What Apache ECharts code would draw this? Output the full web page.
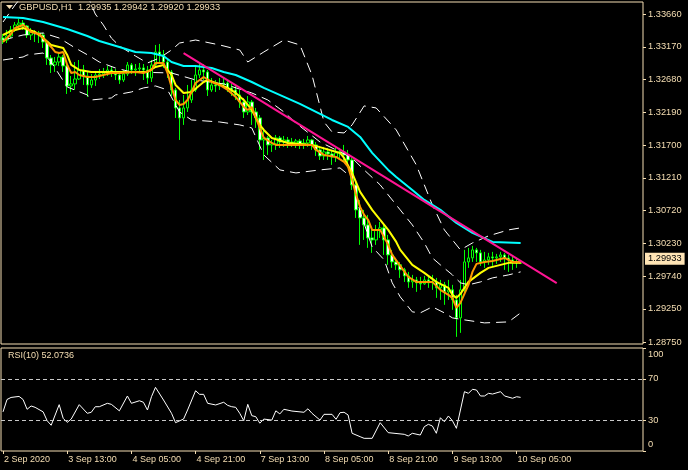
<!DOCTYPE html>
<html><head><meta charset="utf-8">
<script src="https://cdn.jsdelivr.net/npm/echarts@6/dist/echarts.min.js"></script>
<style>html,body{margin:0;padding:0;background:#000}#c{width:688px;height:470px}</style>
</head><body><div id="c"></div>
<script>
const symbol = 'GBPUSD';
const timeframe = 'H1';
const slotCount = 160;

const open = [1.33301,1.33271,1.33331,1.33421,1.33496,1.33525,1.33481,1.33346,1.33391,1.33376,
1.33346,1.33241,1.33002,1.32898,1.32942,1.33017,1.32883,1.32584,1.32614,1.32688,
1.32823,1.32733,1.32599,1.32673,1.32748,1.32763,1.32793,1.32823,1.32793,1.32748,
1.32673,1.32763,1.32898,1.32823,1.32838,1.32853,1.32823,1.32703,1.32898,1.33092,
1.33047,1.32942,1.32793,1.32524,1.32255,1.32105,1.32255,1.32374,1.32524,1.32748,
1.32823,1.32793,1.32524,1.32599,1.32584,1.32614,1.32628,1.32554,1.32524,1.32449,
1.32344,1.32195,1.32344,1.32195,1.32105,1.31776,1.31806,1.31702,1.31717,1.31806,
1.31746,1.31776,1.31746,1.31731,1.31761,1.31717,1.31731,1.31776,1.31702,1.31627,
1.31537,1.31597,1.31567,1.31522,1.31582,1.31597,1.31552,1.31477,1.31104,1.30730,
1.30610,1.30506,1.30311,1.30281,1.30431,1.30461,1.30281,1.30057,1.29952,1.29908,
1.29833,1.29743,1.29653,1.29683,1.29639,1.29624,1.29683,1.29639,1.29653,1.29564,
1.29609,1.29504,1.29534,1.29384,1.29115,1.29534,1.29952,1.30012,1.30132,1.30087,
1.29952,1.29982,1.30027,1.30012,1.30027,1.30057,1.30012,1.29982,1.29952,1.29935];

const close = [1.33271,1.33331,1.33421,1.33496,1.33525,1.33481,1.33346,1.33391,1.33376,1.33346,
1.33241,1.33002,1.32898,1.32942,1.33017,1.32883,1.32584,1.32614,1.32688,1.32823,
1.32733,1.32599,1.32673,1.32748,1.32763,1.32793,1.32823,1.32793,1.32748,1.32673,
1.32763,1.32898,1.32823,1.32838,1.32853,1.32823,1.32703,1.32898,1.33092,1.33047,
1.32942,1.32793,1.32524,1.32255,1.32105,1.32255,1.32374,1.32524,1.32748,1.32823,
1.32793,1.32524,1.32599,1.32584,1.32614,1.32628,1.32554,1.32524,1.32449,1.32344,
1.32195,1.32344,1.32195,1.32105,1.31776,1.31806,1.31702,1.31717,1.31806,1.31746,
1.31776,1.31746,1.31731,1.31761,1.31717,1.31731,1.31776,1.31702,1.31627,1.31537,
1.31597,1.31567,1.31522,1.31582,1.31597,1.31552,1.31477,1.31104,1.30730,1.30610,
1.30506,1.30311,1.30281,1.30431,1.30461,1.30281,1.30057,1.29952,1.29908,1.29833,
1.29743,1.29653,1.29683,1.29639,1.29624,1.29683,1.29639,1.29653,1.29564,1.29609,
1.29504,1.29534,1.29384,1.29115,1.29534,1.29952,1.30012,1.30132,1.30087,1.29952,
1.29982,1.30027,1.30012,1.30027,1.30057,1.30012,1.29982,1.29952,1.29938,1.29933];

const high = [1.33361,1.33421,1.33481,1.33540,1.33585,1.33570,1.33496,1.33451,1.33421,1.33406,
1.33376,1.33271,1.33047,1.33017,1.33092,1.33047,1.32898,1.32733,1.32942,1.32972,
1.32898,1.32793,1.32763,1.32808,1.32838,1.32853,1.32883,1.32868,1.32838,1.32793,
1.32823,1.32942,1.32927,1.32912,1.32927,1.32912,1.32883,1.32972,1.33197,1.33212,
1.33122,1.32972,1.32823,1.32554,1.32374,1.32449,1.32599,1.32673,1.32898,1.32927,
1.32912,1.32823,1.32703,1.32673,1.32703,1.32703,1.32673,1.32614,1.32584,1.32524,
1.32404,1.32434,1.32374,1.32255,1.32150,1.31956,1.31836,1.31776,1.31851,1.31836,
1.31836,1.31821,1.31806,1.31791,1.31791,1.31791,1.31836,1.31791,1.31746,1.31687,
1.31672,1.31657,1.31627,1.31657,1.31657,1.31702,1.31627,1.31507,1.31148,1.30879,
1.30730,1.30655,1.30461,1.30506,1.30550,1.30506,1.30356,1.30132,1.30012,1.29952,
1.29863,1.29803,1.29758,1.29728,1.29728,1.29743,1.29743,1.29758,1.29713,1.29683,
1.29653,1.29683,1.29609,1.29459,1.29683,1.30132,1.30162,1.30192,1.30162,1.30132,
1.30102,1.30087,1.30102,1.30072,1.30102,1.30087,1.30057,1.30042,1.30012,1.29942];

const low = [1.33212,1.33226,1.33301,1.33391,1.33451,1.33421,1.33301,1.33271,1.33241,1.33226,
1.33152,1.32898,1.32778,1.32793,1.32883,1.32793,1.32464,1.32494,1.32524,1.32673,
1.32599,1.32419,1.32554,1.32584,1.32688,1.32703,1.32733,1.32718,1.32673,1.32614,
1.32643,1.32733,1.32763,1.32733,1.32778,1.32673,1.32614,1.32643,1.32853,1.32942,
1.32853,1.32703,1.32434,1.32105,1.31776,1.32001,1.32195,1.32330,1.32494,1.32703,
1.32673,1.32434,1.32494,1.32494,1.32524,1.32554,1.32494,1.32434,1.32374,1.32255,
1.32105,1.32150,1.32001,1.31956,1.31627,1.31477,1.31552,1.31597,1.31627,1.31657,
1.31672,1.31657,1.31672,1.31657,1.31642,1.31642,1.31672,1.31627,1.31537,1.31477,
1.31477,1.31477,1.31403,1.31447,1.31507,1.31447,1.31358,1.31029,1.30610,1.30207,
1.30281,1.30162,1.30087,1.30207,1.30311,1.30057,1.29908,1.29863,1.29833,1.29713,
1.29653,1.29564,1.29564,1.29504,1.29534,1.29609,1.29564,1.29534,1.29414,1.29384,
1.29310,1.29384,1.29235,1.28831,1.28891,1.29459,1.29863,1.29952,1.29952,1.29893,
1.29863,1.29908,1.29893,1.29923,1.29952,1.29833,1.29803,1.29833,1.29863,1.29920];

// moving averages, read as [bar index, price]
const maSlow = [[0,1.33615],[5,1.33600],[10,1.33540],[16,1.33436],[21,1.33331],[24,1.33256],[29,1.33167],[33,1.33092],[37,1.33077],[40,1.33032],[42,1.32942],[45,1.32883],[48,1.32883],[52,1.32853],[55,1.32793],[58,1.32748],[62,1.32643],[65,1.32554],[74,1.32315],[82,1.32075],[86,1.31971],[89,1.31821],[92,1.31582],[96,1.31328],[98,1.31223],[102,1.31029],[105,1.30879],[109,1.30730],[113,1.30536],[117,1.30386],[122,1.30251],[129,1.30236]];
const maMid = [[0,1.33346],[2,1.33406],[4,1.33436],[5,1.33451],[8,1.33391],[10,1.33301],[12,1.33197],[14,1.33167],[15,1.33152],[16,1.33047],[17,1.32898],[19,1.32823],[22,1.32793],[36,1.32793],[38,1.32868],[40,1.32898],[42,1.32748],[43,1.32599],[45,1.32479],[47,1.32494],[50,1.32643],[51,1.32673],[53,1.32628],[56,1.32554],[58,1.32479],[60,1.32374],[62,1.32225],[64,1.32001],[65,1.31926],[67,1.31806],[71,1.31731],[77,1.31702],[84,1.31582],[85,1.31507],[87,1.31283],[89,1.30999],[92,1.30730],[94,1.30580],[96,1.30431],[98,1.30251],[99,1.30132],[102,1.29908],[105,1.29788],[108,1.29653],[111,1.29564],[112,1.29459],[113,1.29414],[114,1.29474],[116,1.29653],[119,1.29788],[121,1.29863],[124,1.29908],[126,1.29938],[129,1.29938]];
const maFast = [[0,1.33241],[2,1.33361],[3,1.33451],[5,1.33496],[6,1.33451],[7,1.33391],[9,1.33361],[10,1.33301],[12,1.33167],[13,1.33092],[14,1.33077],[15,1.33092],[16,1.32898],[17,1.32778],[18,1.32793],[19,1.32748],[21,1.32718],[23,1.32718],[27,1.32778],[29,1.32778],[33,1.32793],[35,1.32778],[37,1.32823],[38,1.32927],[40,1.32927],[41,1.32778],[42,1.32569],[43,1.32374],[44,1.32300],[45,1.32315],[46,1.32374],[47,1.32494],[48,1.32628],[50,1.32718],[52,1.32643],[54,1.32599],[56,1.32524],[58,1.32419],[60,1.32270],[61,1.32225],[62,1.32270],[64,1.31956],[65,1.31806],[67,1.31731],[68,1.31702],[77,1.31702],[78,1.31627],[80,1.31552],[83,1.31522],[85,1.31447],[86,1.31373],[87,1.31178],[88,1.30954],[89,1.30775],[90,1.30655],[91,1.30580],[92,1.30431],[94,1.30431],[96,1.30207],[97,1.30057],[99,1.29893],[101,1.29728],[103,1.29653],[107,1.29653],[109,1.29534],[111,1.29459],[112,1.29414],[113,1.29265],[114,1.29339],[116,1.29609],[117,1.29803],[118,1.29923],[120,1.29952],[122,1.29967],[124,1.29997],[125,1.30012],[127,1.29952],[129,1.29952]];

// Bollinger bands, read as [bar index, price]
const bbUpper = [[0,1.33540],[3,1.33795],[5,1.33944],[21,1.33944],[23,1.33660],[25,1.33496],[27,1.33301],[29,1.33182],[33,1.33032],[36,1.32927],[39,1.33002],[42,1.33122],[44,1.33226],[48,1.33271],[54,1.33197],[59,1.33122],[61,1.32942],[65,1.33092],[70,1.33271],[74,1.33197],[77,1.32748],[80,1.32045],[82,1.31896],[85,1.31881],[87,1.32001],[90,1.32285],[93,1.32255],[98,1.31926],[103,1.31403],[107,1.30805],[110,1.30431],[114,1.30132],[117,1.30236],[121,1.30341],[126,1.30431],[129,1.30461]];
const bbMiddle = [[0,1.33271],[5,1.33346],[10,1.33376],[14,1.33301],[18,1.33152],[22,1.33017],[24,1.32942],[28,1.32853],[32,1.32793],[42,1.32778],[48,1.32673],[55,1.32614],[62,1.32479],[66,1.32374],[70,1.32195],[73,1.32030],[79,1.31746],[83,1.31627],[87,1.31507],[90,1.31328],[94,1.31104],[96,1.30954],[99,1.30730],[102,1.30506],[105,1.30236],[107,1.30012],[109,1.29908],[112,1.29758],[114,1.29639],[116,1.29609],[119,1.29653],[122,1.29713],[126,1.29758],[129,1.29803]];
const bbLower = [[0,1.32972],[5,1.33017],[6,1.33047],[10,1.33077],[12,1.32942],[16,1.32569],[21,1.32449],[22,1.32374],[27,1.32404],[28,1.32449],[32,1.32494],[35,1.32554],[38,1.32584],[41,1.32524],[44,1.32195],[47,1.32075],[54,1.32045],[59,1.32001],[62,1.31956],[65,1.31552],[69,1.31328],[73,1.31283],[79,1.31328],[84,1.31358],[87,1.31208],[89,1.30700],[92,1.30177],[95,1.29982],[97,1.29639],[99,1.29429],[102,1.29205],[104,1.29190],[107,1.29280],[110,1.29190],[112,1.29115],[115,1.29085],[120,1.29040],[126,1.29055],[129,1.29190]];

// trend line endpoints [bar index, price]
const trendLine = [[45,1.33075],[138,1.29634]];

// RSI(10), read as [bar index, value]
const rsi = [[0,38],[1,50],[2,52],[4,53],[5,50],[6,40.5],[7,43.7],[8,42.4],[10,38],[11,29.4],[12,25],[14,45],[15,31.7],[16,27.8],[17,31],[19,45],[21,36.6],[22,37.6],[23,43],[24,43],[26,46.3],[27,45.3],[29,39],[31,53.4],[32,46.3],[34,48.8],[35,47.3],[36,39.8],[37,52.7],[38,61.8],[40,49.5],[42,36.6],[43,27.5],[45,31],[46,39.8],[48,58.5],[49,55],[50,55],[51,46.3],[53,44.7],[55,47.3],[56,44.3],[57,43],[58,42.4],[59,36.6],[60,29.4],[61,45.3],[62,34.3],[63,33.3],[64,27],[65,31],[67,30],[68,39],[69,36],[70,40.5],[72,38.8],[75,37.6],[76,41],[77,36.6],[79,30],[80,35.6],[82,35.6],[83,30.8],[84,37.2],[85,37.6],[86,35],[87,17.2],[89,13.9],[90,12.3],[92,12.3],[94,27.5],[96,17.8],[100,16.2],[101,14.6],[102,17.2],[104,15.5],[105,23.6],[106,25.9],[107,24.3],[108,17.2],[109,32.3],[110,28.4],[111,34],[112,29.4],[113,22],[115,57.6],[116,56],[117,59.9],[118,59.2],[119,53.4],[120,53.4],[121,56],[122,55.3],[124,57.6],[125,53.4],[127,51.2],[128,52.7],[129,52.0736]];
const rsiLevels = [30, 70];

const timeTickIndex = [0,16,32,48,64,80,96,112,128];
const timeTickLabels = ['2 Sep 2020','3 Sep 13:00','4 Sep 05:00','4 Sep 21:00','7 Sep 13:00','8 Sep 05:00','8 Sep 21:00','9 Sep 13:00','10 Sep 05:00'];
const priceTicks = [1.28750,1.29250,1.29740,1.30230,1.30720,1.31210,1.31700,1.32190,1.32680,1.33170,1.33660];
const rsiTicks = [0,30,70,100];

const FG = '#F5DEB3';
const FONT = 'Liberation Sans';
const chart = echarts.init(document.getElementById('c'), null, {renderer:'canvas'});
const cats = [];
for (let i = 0; i < slotCount; i++) cats.push(String(i));
const candles = open.map((o, i) => [o, close[i], low[i], high[i]]);
const last = open.length - 1;
const tickSet = new Set(timeTickIndex);

const bandStyle = {color:'#FFFFFF', width:1, type:[10,6]};
function lineSeries(data, color, width, z, extra) {
  return Object.assign({type:'line', xAxisIndex:0, yAxisIndex:0, data, symbol:'none', silent:true,
    lineStyle:{color, width}, z}, extra || {});
}
const YFS = 9.3;

chart.setOption({
  animation:false,
  backgroundColor:'#000000',
  grid:[
    {left:1, top:2, width:642, height:342, show:true, borderColor:FG, borderWidth:1, backgroundColor:'transparent'},
    {left:1, top:348, width:642, height:103, show:true, borderColor:FG, borderWidth:1, backgroundColor:'transparent'}
  ],
  xAxis:[
    {type:'category', gridIndex:0, data:cats, boundaryGap:true, show:false},
    {type:'category', gridIndex:1, data:cats, boundaryGap:true, position:'bottom',
     axisLine:{show:false},
     axisTick:{show:true, alignWithLabel:true, length:3, lineStyle:{color:FG}, interval:(i)=>tickSet.has(i)},
     axisLabel:{show:true, interval:(i)=>tickSet.has(i), align:'left', margin:4, padding:[0,0,0,1],
       color:FG, fontFamily:FONT, fontSize:9,
       formatter:(v, i)=>{const k = timeTickIndex.indexOf(Number(v)); return k>=0 ? timeTickLabels[k] : '';}},
     splitLine:{show:false}}
  ],
  yAxis:[
    {type:'value', gridIndex:0, position:'right', min:1.287243, max:1.338395, scale:true,
     axisLine:{show:false}, splitLine:{show:false},
     axisTick:{show:true, length:3, lineStyle:{color:FG}, customValues:priceTicks},
     axisLabel:{show:true, color:FG, fontFamily:FONT, fontSize:YFS, margin:5, customValues:priceTicks,
       formatter:(v)=>Number(v).toFixed(5)}},
    {type:'value', gridIndex:1, position:'right', min:0, max:100,
     axisLine:{show:false}, splitLine:{show:false},
     axisTick:{show:true, length:3, lineStyle:{color:FG}, customValues:rsiTicks},
     axisLabel:{show:true, color:FG, fontFamily:FONT, fontSize:YFS, margin:5, customValues:rsiTicks,
       formatter:(v)=> v===100 ? '{t|100}' : (v===0 ? '{b|0}' : '{n|'+v+'}'),
       rich:{t:{padding:[12,0,0,0], color:FG, fontFamily:FONT, fontSize:YFS},
             b:{padding:[0,0,14,0], color:FG, fontFamily:FONT, fontSize:YFS},
             n:{color:FG, fontFamily:FONT, fontSize:YFS}}}}
  ],
  series:[
    {type:'candlestick', xAxisIndex:0, yAxisIndex:0, data:candles, barWidth:3, silent:true, z:2,
     itemStyle:{color:'#000000', color0:'#FFFFFF', borderColor:'#00FF00', borderColor0:'#00FF00', borderWidth:1},
     markLine:{symbol:'none', silent:true, animation:false,
       lineStyle:{color:'rgba(0,0,0,0)', width:0},
       label:{show:true, position:'end', distance:2, backgroundColor:'#FFE4B5', color:'#000000',
         fontFamily:FONT, fontSize:YFS, padding:[2,3,1,3], formatter:()=>close[last].toFixed(5)},
       data:[{yAxis:close[last]}]}},
    lineSeries(bbUpper, '#FFFFFF', 1, 3, {lineStyle:bandStyle}),
    lineSeries(bbMiddle, '#FFFFFF', 1, 3, {lineStyle:bandStyle}),
    lineSeries(bbLower, '#FFFFFF', 1, 3, {lineStyle:bandStyle}),
    lineSeries(maSlow, '#00FFFF', 2, 4),
    lineSeries(maMid, '#FFFF00', 2, 5),
    lineSeries(maFast, '#FF9900', 2, 6),
    lineSeries(trendLine, '#FF1493', 2, 7),
    {type:'line', xAxisIndex:1, yAxisIndex:1, data:rsi, symbol:'none', silent:true,
     lineStyle:{color:'#FFFFFF', width:1}, z:3,
     markLine:{symbol:'none', silent:true, animation:false, label:{show:false},
       lineStyle:{color:'#C8C8C8', width:1, type:[4,3]},
       data:rsiLevels.map(v=>({yAxis:v}))}}
  ],
  graphic:[
    {type:'polygon', shape:{points:[[6,5],[13,5],[9.5,9]]}, style:{fill:FG}, silent:true},
    {type:'text', left:19, top:3, silent:true, style:{
      text: symbol+','+timeframe+'  '+open[last].toFixed(5)+' '+high[last].toFixed(5)+' '+low[last].toFixed(5)+' '+close[last].toFixed(5),
      fill:FG, font:'9.3px "'+FONT+'"'}},
    {type:'text', left:8, top:351, silent:true, style:{
      text:'RSI(10) '+rsi[rsi.length-1][1].toFixed(4), fill:FG, font:'9px "'+FONT+'"'}}
  ]
});
</script></body></html>
